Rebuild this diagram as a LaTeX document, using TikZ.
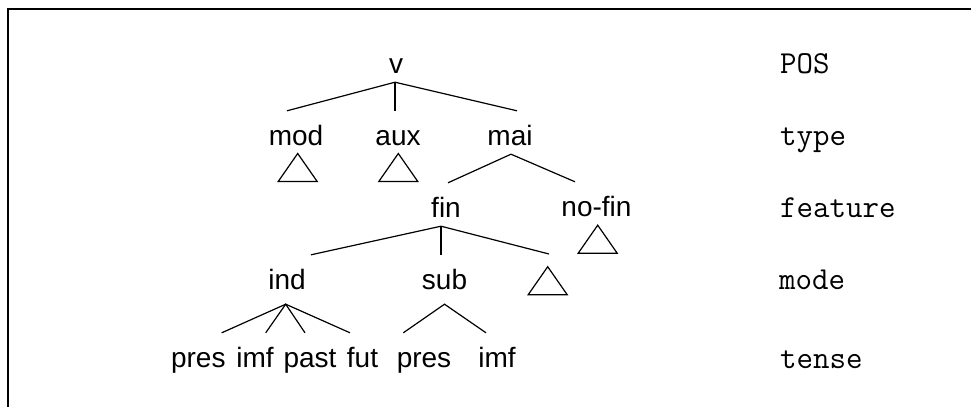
\documentclass[tikz,border=0pt]{standalone}
\usepackage{fontspec}
\setmainfont{Liberation Sans}
\begin{document}
\begin{tikzpicture}[x=1pt,y=-1pt,
  tnode/.style={anchor=base, font=\fontsize{28}{34}\selectfont, text height=25pt, text depth=0pt, inner xsep=0pt, inner ysep=9pt},
  lownode/.style={tnode, text depth=6pt},
  lvl/.style={anchor=base west, inner sep=0pt, font=\ttfamily\fontsize{32}{38}\selectfont},
  edge/.style={line width=1.2pt},
  tri/.pic={\draw[line width=1.2pt, line join=miter] (0,0) -- (-19.5,28) -- (19.5,28) -- cycle;}
]
\useasboundingbox (0,0) rectangle (971,407);
% frame
\draw[line width=2pt] (7,9) coordinate (ftl) -- (971,9) coordinate (ftr);
\draw[line width=1.3pt] (8,9) coordinate (flt) -- (8,407) coordinate (flb);

% tree nodes
\node[tnode] (v) at (396,73) {v};
\node[tnode] (mod) at (296,145) {mod};
\node[tnode] (aux) at (398,145) {aux};
\node[tnode] (mai) at (510,145) {mai};
\node[tnode] (fin) at (446,217) {fin};
\node[tnode] (nofin) at (596.5,216) {no-fin};
\node[lownode] (ind) at (287,289) {ind};
\node[lownode] (sub) at (444.5,289) {sub};
\node[tnode] (p1) at (198.3,367) {pres};
\node[tnode] (i1) at (255,367) {imf};
\node[tnode] (pa) at (310,367) {past};
\node[tnode] (fu) at (362.5,367) {fut};
\node[tnode] (p2) at (424,367) {pres};
\node[tnode] (i2) at (497,367) {imf};
\coordinate (fint) at (549,254);

% level labels
\node[lvl] (lpos) at (780,73) {POS};
\node[lvl] (ltype) at (780,145) {type};
\node[lvl] (lfeat) at (780,217) {feature};
\node[lvl] (lmode) at (779,289) {mode};
\node[lvl] (ltense) at (780,368) {tense};

% edges
\draw[edge] ([xshift=-9pt]mod.north) -- ([xshift=-1pt]v.south) -- ([xshift=7pt]mai.north);
\draw[edge] ([xshift=-1pt]v.south) -- ([xshift=-3pt]aux.north);
\draw[edge] ([xshift=2pt]fin.north) -- ([xshift=1pt]mai.south) -- ([xshift=-21.5pt]nofin.north);
\draw[edge] ([xshift=24pt]ind.north) -- ([xshift=-5pt]fin.south) -- (fint);
\draw[edge] ([xshift=-5pt]fin.south) -- ([xshift=-3.5pt]sub.north);
\draw[edge] ([xshift=23.4pt]p1.north) -- ([xshift=-1.3pt]ind.south) -- ([xshift=-12.5pt]fu.north);
\draw[edge] ([xshift=10.7pt]i1.north) -- ([xshift=-1.3pt]ind.south) -- ([xshift=-5pt]pa.north);
\draw[edge] ([xshift=-20.7pt]p2.north) -- (sub.south) -- ([xshift=-11pt]i2.north);

% collapsed subtrees
\pic at ([xshift=1.7pt,yshift=0.7pt]mod.south) {tri};
\pic at ([xshift=0.3pt,yshift=0.7pt]aux.south) {tri};
\pic at ([xshift=1.2pt]nofin.south) {tri};
\pic at ([xshift=-1.3pt,yshift=-12.7pt]fint) {tri};
\end{tikzpicture}
\end{document}
